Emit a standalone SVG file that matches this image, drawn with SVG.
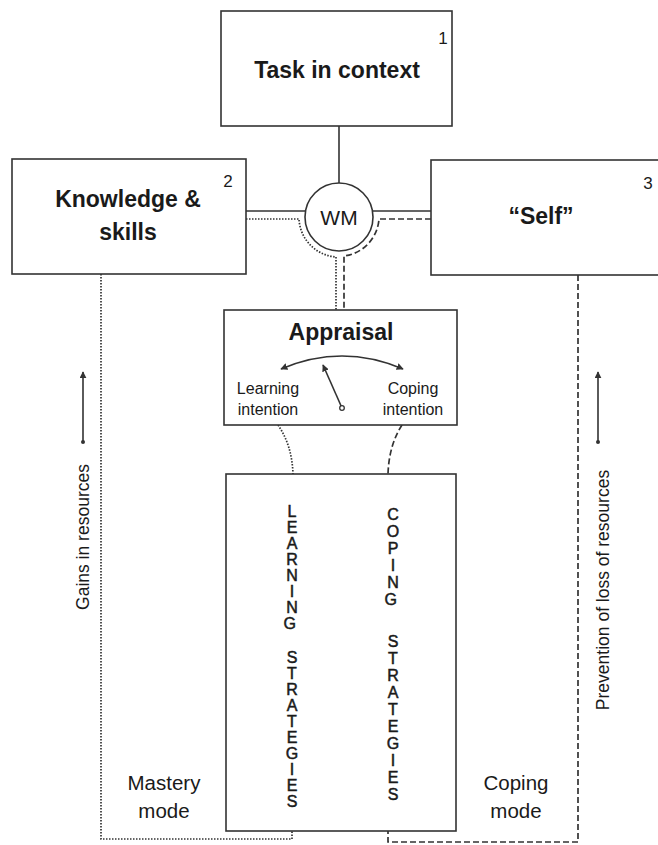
<svg xmlns="http://www.w3.org/2000/svg" width="658" height="845" viewBox="0 0 658 845">
<style>
  .box{fill:#fff;stroke:#333;stroke-width:1.6}
  .ln{fill:none;stroke:#333;stroke-width:1.6}
  .dot{fill:none;stroke:#333;stroke-width:1.7;stroke-dasharray:1.5 1.5}
  .dash{fill:none;stroke:#333;stroke-width:1.7;stroke-dasharray:6 3}
  text{font-family:"Liberation Sans",Arial,sans-serif;fill:#1a1a1a}
  .title{font-size:23px;font-weight:bold;text-anchor:middle}
  .num{font-size:17px;text-anchor:middle}
  .lab{font-size:16px;text-anchor:middle}
  .mode{font-size:20.5px;text-anchor:middle}
  .side{font-size:17.5px;text-anchor:middle}
  .let{font-size:16px;text-anchor:middle;stroke:#1a1a1a;stroke-width:0.5}
</style>
<defs>
  <marker id="ah" viewBox="0 0 10 10" refX="9" refY="5" markerWidth="7" markerHeight="7" orient="auto-start-reverse" markerUnits="userSpaceOnUse">
    <path d="M0,0 L10,5 L0,10 z" fill="#333"/>
  </marker>
</defs>
<rect width="658" height="845" fill="#fff"/>

<g id="connectors">
  <line class="ln" x1="339" y1="126" x2="339" y2="183"/>
  <line class="ln" x1="246" y1="211" x2="305" y2="211"/>
  <line class="ln" x1="373" y1="211" x2="431" y2="211"/>
  <path class="dot" d="M246,219 H299 A40,40 0 0 0 336,257 V310"/>
  <path class="dash" d="M431,219 H379 A40,40 0 0 1 344,256 V310"/>
  <path class="dot" d="M278,425 Q292,445 293,474"/>
  <path class="dash" d="M402,425 Q389,445 388,474"/>
  <path class="dot" d="M101,274 V839 H292 V831"/>
  <path class="dash" d="M578,275 V842 H388 V831"/>
  <line class="ln" x1="83" y1="442" x2="83" y2="372" marker-end="url(#ah)"/>
  <circle cx="83" cy="442" r="2" fill="#333"/>
  <line class="ln" x1="598" y1="442" x2="598" y2="372" marker-end="url(#ah)"/>
  <circle cx="598" cy="442" r="2" fill="#333"/>
</g>

<g id="task">
  <rect class="box" x="221" y="11" width="231" height="115"/>
  <text class="title" x="337" y="78">Task in context</text>
  <text class="num" x="443" y="44">1</text>
</g>

<g id="knowledge">
  <rect class="box" x="12" y="159" width="234" height="115"/>
  <text class="title" x="128" y="207">Knowledge &amp;</text>
  <text class="title" x="128" y="240">skills</text>
  <text class="num" x="228" y="187">2</text>
</g>

<g id="self">
  <rect class="box" x="431" y="160" width="240" height="115"/>
  <text class="title" x="541" y="224">“Self”</text>
  <text class="num" x="648" y="189">3</text>
</g>

<g id="wm">
  <circle cx="339" cy="217" r="34" fill="#fff" stroke="#333" stroke-width="1.6"/>
  <text x="339" y="225" style="font-size:21px;text-anchor:middle">WM</text>
</g>

<g id="appraisal">
  <rect class="box" x="224" y="310" width="233" height="115"/>
  <text class="title" x="341" y="340">Appraisal</text>
  <path class="ln" d="M281,369 Q342,343 403,369" marker-start="url(#ah)" marker-end="url(#ah)"/>
  <line class="ln" x1="342" y1="408" x2="323" y2="365" marker-end="url(#ah)"/>
  <circle cx="342" cy="408" r="2.3" fill="#fff" stroke="#333" stroke-width="1.3"/>
  <text class="lab" x="268" y="394">Learning</text>
  <text class="lab" x="268" y="415">intention</text>
  <text class="lab" x="413" y="394">Coping</text>
  <text class="lab" x="413" y="415">intention</text>
</g>

<g id="strategies">
  <rect class="box" x="226" y="474" width="230" height="357"/>
  <text class="let">
    <tspan x="292" y="517">L</tspan><tspan x="292" y="533">E</tspan><tspan x="292" y="549">A</tspan><tspan x="292" y="565">R</tspan><tspan x="292" y="581">N</tspan><tspan x="292" y="597">I</tspan><tspan x="292" y="613">N</tspan><tspan x="292" y="629">G</tspan>
    <tspan x="292" y="663">S</tspan><tspan x="292" y="679">T</tspan><tspan x="292" y="695">R</tspan><tspan x="292" y="711">A</tspan><tspan x="292" y="727">T</tspan><tspan x="292" y="743">E</tspan><tspan x="292" y="759">G</tspan><tspan x="292" y="775">I</tspan><tspan x="292" y="791">E</tspan><tspan x="292" y="807">S</tspan>
  </text>
  <text class="let">
    <tspan x="393" y="520">C</tspan><tspan x="393" y="537">O</tspan><tspan x="393" y="554">P</tspan><tspan x="393" y="571">I</tspan><tspan x="393" y="588">N</tspan><tspan x="393" y="605">G</tspan>
    <tspan x="393" y="647">S</tspan><tspan x="393" y="664">T</tspan><tspan x="393" y="681">R</tspan><tspan x="393" y="698">A</tspan><tspan x="393" y="715">T</tspan><tspan x="393" y="732">E</tspan><tspan x="393" y="749">G</tspan><tspan x="393" y="766">I</tspan><tspan x="393" y="783">E</tspan><tspan x="393" y="800">S</tspan>
  </text>
</g>

<g id="mastery-mode">
  <text class="mode" x="164" y="790">Mastery</text>
  <text class="mode" x="164" y="818">mode</text>
</g>

<g id="coping-mode">
  <text class="mode" x="516" y="790">Coping</text>
  <text class="mode" x="516" y="818">mode</text>
</g>

<g id="gains-label">
  <text class="side" transform="translate(89,537) rotate(-90)">Gains in resources</text>
</g>

<g id="prevention-label">
  <text class="side" transform="translate(609,590) rotate(-90)">Prevention of loss of resources</text>
</g>
</svg>
